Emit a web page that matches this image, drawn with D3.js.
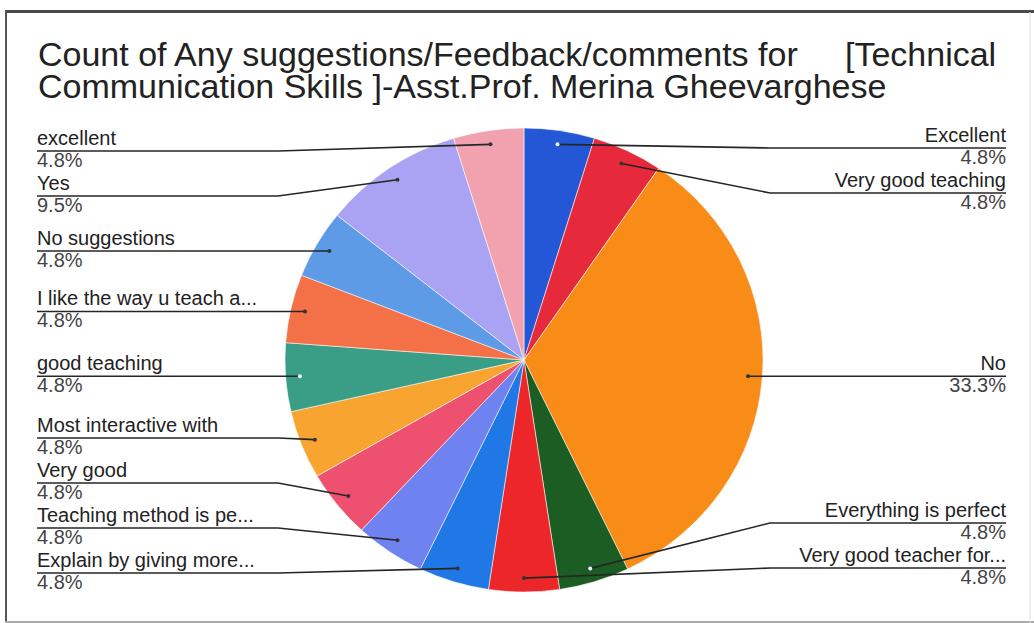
<!DOCTYPE html>
<html><head><meta charset="utf-8">
<script src="https://cdn.jsdelivr.net/npm/d3@7"></script>
<style>html,body{margin:0;padding:0;background:#fff;} svg{display:block;font-family:"Liberation Sans",Arial,sans-serif;}</style>
</head><body><svg id="chart" width="1034" height="623"></svg>
<script>
const titleLines = ["Count of Any suggestions/Feedback/comments for     [Technical",
                    "Communication Skills ]-Asst.Prof. Merina Gheevarghese"];
const categories = ["Excellent","Very good teaching","No","Everything is perfect","Very good teacher for...",
  "Explain by giving more...","Teaching method is pe...","Very good","Most interactive with","good teaching",
  "I like the way u teach a...","No suggestions","Yes","excellent"];
const counts = [1,1,7,1,1,1,1,1,1,1,1,1,2,1];
const colors = ["#2457d6","#e62a3c","#f98c16","#1b5d22","#ec2629","#1f78e6","#6e82f0","#ee5170",
  "#f7a431","#3a9d86","#f47047","#5d9be6","#aaa3f4","#f2a2ae"];

const W = 1034, H = 623;
const svg = d3.select("#chart");
svg.append("rect").attr("width", W).attr("height", H).attr("fill", "#fff");

// frame
svg.append("line").attr("x1", 5).attr("x2", W).attr("y1", 11.5).attr("y2", 11.5).attr("stroke", "#4a4a4a").attr("stroke-width", 3);
svg.append("line").attr("x1", 6).attr("x2", 6).attr("y1", 10).attr("y2", H).attr("stroke", "#555").attr("stroke-width", 2);
svg.append("line").attr("x1", 5).attr("x2", W).attr("y1", 622).attr("y2", 622).attr("stroke", "#aaa").attr("stroke-width", 2);
svg.append("line").attr("x1", 1030).attr("x2", 1030).attr("y1", 12).attr("y2", H).attr("stroke", "#ddd").attr("stroke-width", 1);

// title
const title = svg.append("text").attr("x", 38).attr("fill", "#222").attr("font-size", 34)
  .attr("xml:space", "preserve").style("white-space", "pre");
titleLines.forEach((t, i) => title.append("tspan").attr("x", 38).attr("y", 66 + i * 32).text(t));

// pie
const cx = 524, cy = 360, rx = 239, ry = 232;
const data = categories.map((c, i) => ({name: c, count: counts[i], color: colors[i]}));
const total = d3.sum(counts);
const arcs = d3.pie().sort(null).value(d => d.count)(data);
const arc = d3.arc().innerRadius(0).outerRadius(rx);
const pieG = svg.append("g").attr("transform", `translate(${cx},${cy}) scale(1,${ry / rx})`);
pieG.selectAll("path").data(arcs).join("path")
  .attr("d", arc).attr("fill", d => d.data.color)
  .attr("stroke", "#fff").attr("stroke-opacity", 0.55).attr("stroke-width", 1)
  .attr("vector-effect", "non-scaling-stroke");

// labels
const fmt = d3.format(".1%");
const items = arcs.map(a => {
  const m = (a.startAngle + a.endAngle) / 2;
  return {a, m, ax: cx + 0.94 * rx * Math.sin(m), ay: cy - 0.94 * ry * Math.cos(m),
          side: m <= Math.PI + 1e-9 ? "right" : "left"};
});
function layout(list, top, bottom, gap) {
  list.sort((p, q) => p.ay - q.ay);
  let prev = -Infinity;
  list.forEach(d => { d.y = Math.max(d.ay, prev + gap, top); prev = d.y; });
  let next = Infinity;
  for (let i = list.length - 1; i >= 0; i--) { const d = list[i]; d.y = Math.min(d.y, next - gap, bottom); next = d.y; }
}
const left = items.filter(d => d.side === "left"), right = items.filter(d => d.side === "right");
layout(left, 151, 573, 45);
layout(right, 148, 568, 45);

const lblG = svg.append("g");
const leftX = 37, rightX = 1006, bendL = 278, bendR = 770;
items.forEach(d => {
  const isL = d.side === "left";
  const x0 = isL ? leftX : rightX, bx = isL ? bendL : bendR;
  lblG.append("path").attr("d", `M${x0},${d.y}H${bx}L${d.ax},${d.ay}`)
    .attr("fill", "none").attr("stroke", "#262626").attr("stroke-width", 1.6);
  const l = d3.hsl(d.a.data.color).l;
  lblG.append("circle").attr("cx", d.ax).attr("cy", d.ay).attr("r", 2)
    .attr("fill", l < 0.5 ? "#eef" : "#333");
  lblG.append("text").attr("x", x0).attr("y", d.y - 6).attr("text-anchor", isL ? "start" : "end")
    .attr("font-size", 20).attr("fill", "#222").text(d.a.data.name);
  lblG.append("text").attr("x", x0).attr("y", d.y + 16).attr("text-anchor", isL ? "start" : "end")
    .attr("font-size", 20).attr("fill", "#444").text(fmt(d.a.data.count / total));
});
</script></body></html>
